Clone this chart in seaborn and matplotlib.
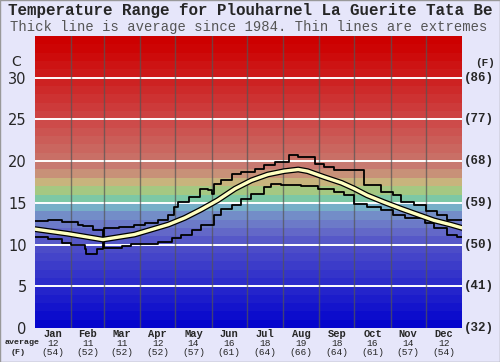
import numpy as np
import pandas as pd
import matplotlib
matplotlib.use("Agg")
import matplotlib.pyplot as plt
import seaborn as sns

# ---- data ----
months = ["Jan", "Feb", "Mar", "Apr", "May", "Jun", "Jul", "Aug", "Sep", "Oct", "Nov", "Dec"]
month_avg_c = [12, 11, 11, 12, 14, 16, 18, 19, 18, 16, 14, 12]
month_avg_f = [54, 52, 52, 52, 57, 61, 64, 66, 64, 61, 57, 54]
month_days = [31, 28, 31, 30, 31, 30, 31, 31, 30, 31, 30, 31]

c_ticks = [0, 5, 10, 15, 20, 25, 30]
f_ticks = [32, 41, 50, 59, 68, 77, 86]

# average (thick line)
avg_day = [0, 28, 58, 85, 114, 128, 142, 156, 171, 185, 199, 213,
           225, 233, 247, 262, 273, 284, 298, 313, 327, 341, 355, 365]
avg_temp = [11.85, 11.3, 10.6, 11.2, 12.4, 13.2, 14.2, 15.3, 16.7, 17.7, 18.4, 18.8,
            19.0, 18.8, 18.1, 17.4, 16.7, 15.9, 15.1, 14.3, 13.6, 12.9, 12.4, 12.0]

# extremes (thin step lines): day where each step begins, value
max_day = [0, 11, 23, 37, 41, 50, 58, 59, 72, 85, 94, 105, 114, 119, 122, 132, 141,
           148, 151, 153, 159, 168, 176, 188, 196, 205, 217, 225, 239, 247, 256,
           281, 296, 306, 313, 324, 334, 344, 352, 365]
max_temp = [12.85, 12.95, 12.75, 12.4, 12.2, 11.8, 10.6, 12.0, 12.1, 12.4, 12.6, 13.0,
            13.6, 14.5, 15.1, 15.7, 16.7, 16.5, 16.1, 17.3, 17.7, 18.5, 18.7, 19.1,
            19.5, 19.9, 20.7, 20.55, 19.7, 19.3, 18.9, 17.1, 16.3, 15.9, 15.1, 14.7,
            14.0, 13.6, 12.9, 12.9]

min_day = [0, 11, 23, 31, 43, 44, 53, 58, 59, 74, 82, 105, 117, 125, 134, 142, 153,
           159, 168, 176, 185, 196, 202, 210, 227, 242, 256, 264, 273, 284, 296, 306,
           316, 333, 341, 352, 361, 365]
min_temp = [10.9, 10.7, 10.2, 10.0, 9.5, 8.9, 9.5, 10.6, 9.6, 9.8, 10.1, 10.3, 10.8,
            11.2, 11.8, 12.4, 13.6, 14.3, 14.7, 15.5, 16.1, 16.9, 17.3, 17.2, 17.0,
            16.7, 16.3, 15.9, 14.9, 14.5, 14.2, 13.6, 13.2, 12.6, 12.0, 11.2, 10.9, 10.9]

df_avg = pd.DataFrame({"day": avg_day, "temp": avg_temp})
df_max = pd.DataFrame({"day": max_day, "temp": max_temp})
df_min = pd.DataFrame({"day": min_day, "temp": min_temp})

# ---- colour bands (1 C each) ----
anchor_t = [0, 10, 12, 14, 15, 16, 17, 18, 19, 20, 25, 30, 34, 35]
anchor_rgb = np.array([
    (0, 0, 205), (80, 80, 200), (105, 112, 200), (118, 150, 200), (120, 200, 200),
    (130, 200, 130), (200, 200, 130), (200, 160, 120), (200, 130, 120),
    (200, 115, 105), (205, 70, 70), (205, 30, 30), (205, 0, 0), (205, 0, 0)]) / 255.0

bg = "#e6e6fa"
sns.set_style("white")
plt.rcParams["font.family"] = ["DejaVu Sans"]

fig = plt.figure(figsize=(5.0, 3.62), dpi=100, facecolor=bg)
ax = fig.add_axes([35 / 500, 1 - 328 / 362, 427 / 500, 292 / 362])
ax.set_facecolor(bg)

for t in range(35):
    col = [np.interp(t + 0.5, anchor_t, anchor_rgb[:, k]) for k in range(3)]
    ax.axhspan(t, t + 1, color=col, lw=0, zorder=0)

for t in c_ticks[1:]:
    ax.axhline(t, color="white", lw=1.4, zorder=1)

bounds = np.cumsum(month_days)
for b in bounds[:-1]:
    ax.axvline(b, color="#555555", lw=1.0, alpha=0.7, zorder=1)

sns.lineplot(data=df_max, x="day", y="temp", drawstyle="steps-post", color="black",
             lw=1.3, ax=ax, zorder=3)
sns.lineplot(data=df_min, x="day", y="temp", drawstyle="steps-post", color="black",
             lw=1.3, ax=ax, zorder=3)
sns.lineplot(data=df_avg, x="day", y="temp", color="black", lw=4.2, ax=ax, zorder=4)
sns.lineplot(data=df_avg, x="day", y="temp", color="#ffffc0", lw=2.4, ax=ax, zorder=5)

ax.set_xlim(0, 365)
ax.set_ylim(0, 35)
ax.set_xlabel("")
ax.set_ylabel("")
ax.set_xticks([])
ax.set_yticks(c_ticks)
ax.set_yticklabels([str(t) for t in c_ticks], fontsize=10.5)
ax.tick_params(axis="y", length=0, pad=6)
for s in ax.spines.values():
    s.set_visible(False)

mono = "Liberation Mono"
yt = ax.get_yaxis_transform()
for t, f in zip(c_ticks, f_ticks):
    ax.text(1.005, t, "(%d)" % f, transform=yt, ha="left", va="center",
            family=mono, weight="bold", fontsize=9)
ax.text(1.03, 31.8, "(F)", transform=yt, ha="left", va="center",
        family=mono, weight="bold", fontsize=8)
ax.text(-0.045, 31.9, "C", transform=yt, ha="center", va="center",
        fontsize=10)

xt = ax.get_xaxis_transform()
centers = bounds - np.array(month_days) / 2.0
for x, m, c, f in zip(centers, months, month_avg_c, month_avg_f):
    ax.text(x, -0.022, m, transform=xt, ha="center", va="center",
            family=mono, weight="bold", fontsize=7.5)
    ax.text(x, -0.052, str(c), transform=xt, ha="center", va="center",
            family=mono, fontsize=6.8)
    ax.text(x, -0.083, "(%d)" % f, transform=xt, ha="center", va="center",
            family=mono, fontsize=6.8)
fig.text(22 / 500, 1 - 343 / 362, "average", ha="center", va="center",
         family=mono, weight="bold", fontsize=6)
fig.text(18 / 500, 1 - 352 / 362, "(F)", ha="center", va="center",
         family=mono, weight="bold", fontsize=6)

# title is cut at the right edge in the reference: keep the visible part
fig.text(8 / 500, 1 - 11 / 362, "Temperature Range for Plouharnel La Guerite Tata Be",
         ha="left", va="center", family=mono, weight="bold", fontsize=11.4)
fig.text(10 / 500, 1 - 27 / 362,
         "Thick line is average since 1984. Thin lines are extremes",
         ha="left", va="center", family=mono, color="#555555", fontsize=10)

fig.patches.append(plt.Rectangle((0, 0), 1, 1, transform=fig.transFigure, fill=False,
                                 edgecolor="#999999", lw=1))

fig.savefig("out.png", dpi=100, facecolor=bg)
